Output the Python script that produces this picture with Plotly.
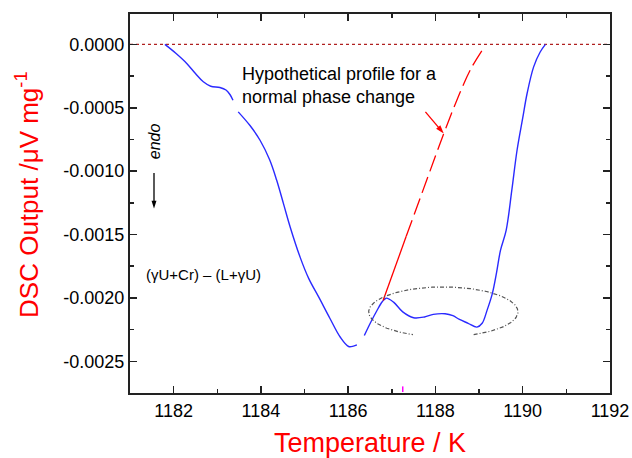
import numpy as np
import plotly.graph_objects as go

# ---- data ----
blue_x1 = [1181.80, 1182.05, 1182.30, 1182.50, 1182.68, 1182.85, 1183.06, 1183.20, 1183.29, 1183.36]
blue_y1 = [0.0, -0.00007, -0.00015, -0.00023, -0.000295, -0.00033, -0.00034, -0.00036, -0.000395, -0.00044]

blue_x2 = [1183.48, 1183.75, 1183.98, 1184.20, 1184.36, 1184.52, 1184.67, 1184.90, 1185.10, 1185.32,
           1185.58, 1185.82, 1186.01, 1186.12, 1186.20]
blue_y2 = [-0.000532, -0.00064, -0.000756, -0.00091, -0.00107, -0.00126, -0.00144, -0.00168, -0.00185, -0.00199,
           -0.00216, -0.00231, -0.002383, -0.00238, -0.00237]

blue_x3 = [1186.37, 1186.52, 1186.66, 1186.78, 1186.87, 1187.04, 1187.25, 1187.50, 1187.75, 1187.95,
           1188.22, 1188.40, 1188.55, 1188.75, 1188.95, 1189.07, 1189.18, 1189.30, 1189.40, 1189.49,
           1189.62, 1189.75, 1189.87, 1190.00, 1190.10, 1190.25, 1190.40, 1190.52]
blue_y3 = [-0.002296, -0.00219, -0.002099, -0.00203, -0.002002, -0.002033, -0.00211, -0.002156, -0.002150, -0.00213,
           -0.002125, -0.00214, -0.00217, -0.00220, -0.00223, -0.00220, -0.00210, -0.00197, -0.00180, -0.001625,
           -0.001467, -0.00115, -0.000835, -0.00058, -0.000387, -0.000177, -0.00006, 0.0]

red_x = [1186.80, 1187.05, 1187.33, 1187.80, 1188.19, 1188.49, 1188.80, 1189.10]
red_y = [-0.00202, -0.00178, -0.001514, -0.00107, -0.000703, -0.00044, -0.0002, -0.00003]

x_ticks = [1182, 1184, 1186, 1188, 1190, 1192]
y_ticks = [0.0, -0.0005, -0.0010, -0.0015, -0.0020, -0.0025]
y_ticktext = ["0.0000", "-0.0005", "-0.0010", "-0.0015", "-0.0020", "-0.0025"]

# ellipse marking the plateau (centre, semi-axes)
ell_cx, ell_cy = 1188.18, -0.00211
ell_rx, ell_ry = 1.71, 0.000197

# arrows: (tail, head)
red_arrow_x = [1187.77, 1188.19]
red_arrow_y = [-0.000532, -0.000703]
endo_arrow_x = [1181.55, 1181.55]
endo_arrow_y = [-0.001015, -0.001294]

FONT = "Liberation Sans, Arial, sans-serif"
BLUE = "#2a2aff"
RED = "#ff0000"

fig = go.Figure()

# zero baseline
fig.add_shape(type="line", xref="paper", x0=0, x1=1, yref="y", y0=0, y1=0,
              line=dict(color="#b02020", width=1.3, dash="dot"), layer="below")

for bx, by in [(blue_x1, blue_y1), (blue_x2, blue_y2), (blue_x3, blue_y3)]:
    fig.add_trace(go.Scatter(x=bx, y=by, mode="lines", line=dict(color=BLUE, width=1.4, shape="spline"),
                             showlegend=False, hoverinfo="skip"))

# red hypothetical profile: solid lower part, dashed upper part
fig.add_trace(go.Scatter(x=red_x[:3], y=red_y[:3], mode="lines", line=dict(color=RED, width=1.3),
                         showlegend=False, hoverinfo="skip"))
fig.add_trace(go.Scatter(x=red_x[2:], y=red_y[2:], mode="lines",
                         line=dict(color=RED, width=1.3, dash="17px,6px", shape="spline"),
                         showlegend=False, hoverinfo="skip"))

# ellipse with gap at bottom
theta = np.radians(np.linspace(-66, 246, 200))
ex = ell_cx + ell_rx * np.cos(theta)
ey = ell_cy + ell_ry * np.sin(theta)
fig.add_trace(go.Scatter(x=ex, y=ey, mode="lines", line=dict(color="#555555", width=1.2, dash="4px,2px,1px,2px"),
                         showlegend=False, hoverinfo="skip"))

# arrows drawn as line + arrow-head marker
for axx, ayy, col, sz in [(red_arrow_x, red_arrow_y, RED, 9), (endo_arrow_x, endo_arrow_y, "black", 8)]:
    fig.add_trace(go.Scatter(x=axx, y=ayy, mode="lines+markers", line=dict(color=col, width=1.3),
                             marker=dict(symbol="arrow", size=sz, angleref="previous", color=col,
                                         opacity=[0, 1], line=dict(width=0)),
                             showlegend=False, hoverinfo="skip"))

# tiny magenta artefact
fig.add_trace(go.Scatter(x=[1187.25], y=[-0.00272], mode="markers",
                         marker=dict(symbol="line-ns", size=4, line=dict(color="#ff00ff", width=1.5)),
                         showlegend=False, hoverinfo="skip"))

fig.add_annotation(x=1183.52, y=-0.000322, xref="x", yref="y", text="Hypothetical profile for a<br>normal phase change",
                   showarrow=False, xanchor="left", yanchor="middle", align="left",
                   font=dict(family=FONT, size=18, color="black"))
fig.add_annotation(x=1181.32, y=-0.001814, xref="x", yref="y", text="(γU+Cr) – (L+γU)",
                   showarrow=False, xanchor="left", yanchor="middle",
                   font=dict(family=FONT, size=15, color="black"))
fig.add_annotation(x=1181.55, y=-0.000764, xref="x", yref="y", text="<i>endo</i>", textangle=-90,
                   showarrow=False, xanchor="center", yanchor="middle",
                   font=dict(family=FONT, size=16, color="black"))
# y axis title (placed as annotation to match position)
fig.add_annotation(x=-0.215, y=0.522, xref="paper", yref="paper", text="DSC Output /μV mg<sup>-1</sup>",
                   textangle=-90, showarrow=False, xanchor="center", yanchor="middle",
                   font=dict(family=FONT, size=26, color=RED))

axis_common = dict(showline=True, linecolor="#222222", linewidth=2, mirror="allticks",
                   ticks="inside", ticklen=7, tickwidth=1.5, tickcolor="#222222",
                   showgrid=False, zeroline=False, automargin=False,
                   tickfont=dict(family=FONT, size=18, color="black"))

fig.update_xaxes(range=[1181, 1192], tickvals=x_ticks,
                 minor=dict(dtick=1, ticks="inside", ticklen=4, tickwidth=1.5, tickcolor="#222222", showgrid=False),
                 title=dict(text="Temperature / K", font=dict(family=FONT, size=27, color=RED), standoff=14),
                 **axis_common)
fig.update_yaxes(range=[-0.00275, 0.00024], tickvals=y_ticks, ticktext=y_ticktext,
                 minor=dict(dtick=0.00025, tick0=0, ticks="inside", ticklen=4, tickwidth=1.5, tickcolor="#222222", showgrid=False),
                 **axis_common)

fig.update_layout(width=632, height=458, margin=dict(l=130, r=22, t=14, b=65),
                  paper_bgcolor="white", plot_bgcolor="white", showlegend=False)

fig.write_html("out.html", config={"displayModeBar": False, "staticPlot": True},
               post_script="document.body.style.margin='0';document.body.style.overflow='hidden';")
